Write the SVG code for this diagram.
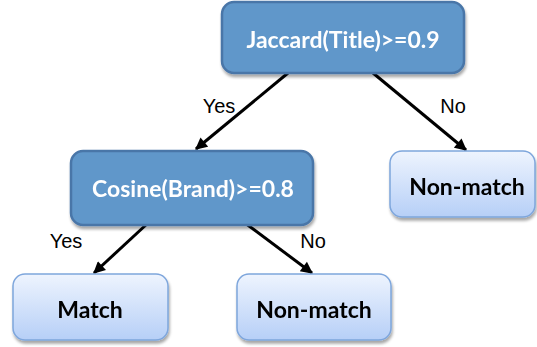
<svg xmlns="http://www.w3.org/2000/svg" width="537" height="347" viewBox="0 0 537 347">
  <defs>
    <linearGradient id="leafFill" x1="0" y1="0" x2="0" y2="1">
      <stop offset="0" stop-color="#eef4fe"/>
      <stop offset="1" stop-color="#b6cff7"/>
    </linearGradient>
    <filter id="shadow" x="-10%" y="-10%" width="125%" height="135%">
      <feGaussianBlur in="SourceAlpha" stdDeviation="1.5"/>
      <feOffset dx="1" dy="3" result="b"/>
      <feComponentTransfer><feFuncA type="linear" slope="0.35"/></feComponentTransfer>
      <feMerge><feMergeNode/><feMergeNode in="SourceGraphic"/></feMerge>
    </filter>
    <marker id="arrow" viewBox="0 0 10 10" refX="9" refY="5" markerWidth="4.5" markerHeight="4" orient="auto" markerUnits="strokeWidth">
      <path d="M0,0 L10,5 L0,10 z" fill="#000"/>
    </marker>
  </defs>
  <style>
    .test { fill: #6097ca; stroke: #4a76a8; stroke-width: 2.5; }
    .leaf { fill: url(#leafFill); stroke: #7ea6dc; stroke-width: 1.5; }
    .tlabel { font-family: Lato, "Open Sans", sans-serif; font-weight: bold; font-size: 23px; fill: #ffffff; text-anchor: middle; }
    .llabel { font-family: Lato, "Open Sans", sans-serif; font-weight: bold; font-size: 23px; fill: #000000; text-anchor: middle; }
    .edge { stroke: #000; stroke-width: 3; fill: none; marker-end: url(#arrow); }
    .elabel { font-family: "Liberation Sans", Arial, sans-serif; font-size: 20px; fill: #000; text-anchor: middle; }
  </style>

  <g id="connectors">
    <line class="edge" x1="288" y1="73" x2="196" y2="149"/>
    <line class="edge" x1="373" y1="73" x2="466" y2="150"/>
    <line class="edge" x1="148" y1="223" x2="94" y2="273"/>
    <line class="edge" x1="245" y1="223" x2="312" y2="273"/>
    <text class="elabel" x="219" y="113">Yes</text>
    <text class="elabel" x="453" y="113">No</text>
    <text class="elabel" x="66" y="248">Yes</text>
    <text class="elabel" x="313" y="248">No</text>
  </g>

  <g id="node-jaccard" filter="url(#shadow)">
    <rect class="test" x="222" y="2" width="242" height="71" rx="12"/>
    <text class="tlabel" x="343" y="48">Jaccard(Title)&gt;=0.9</text>
  </g>

  <g id="node-cosine" filter="url(#shadow)">
    <rect class="test" x="71" y="151" width="242" height="74" rx="12"/>
    <text class="tlabel" x="193" y="197">Cosine(Brand)&gt;=0.8</text>
  </g>

  <g id="node-nonmatch-right" filter="url(#shadow)">
    <rect class="leaf" x="390" y="151" width="145" height="66" rx="12"/>
    <text class="llabel" x="467" y="195">Non-match</text>
  </g>

  <g id="node-match" filter="url(#shadow)">
    <rect class="leaf" x="13" y="274" width="155" height="66" rx="12"/>
    <text class="llabel" x="90" y="318">Match</text>
  </g>

  <g id="node-nonmatch-bottom" filter="url(#shadow)">
    <rect class="leaf" x="237" y="274" width="154" height="66" rx="12"/>
    <text class="llabel" x="314" y="318">Non-match</text>
  </g>
</svg>
